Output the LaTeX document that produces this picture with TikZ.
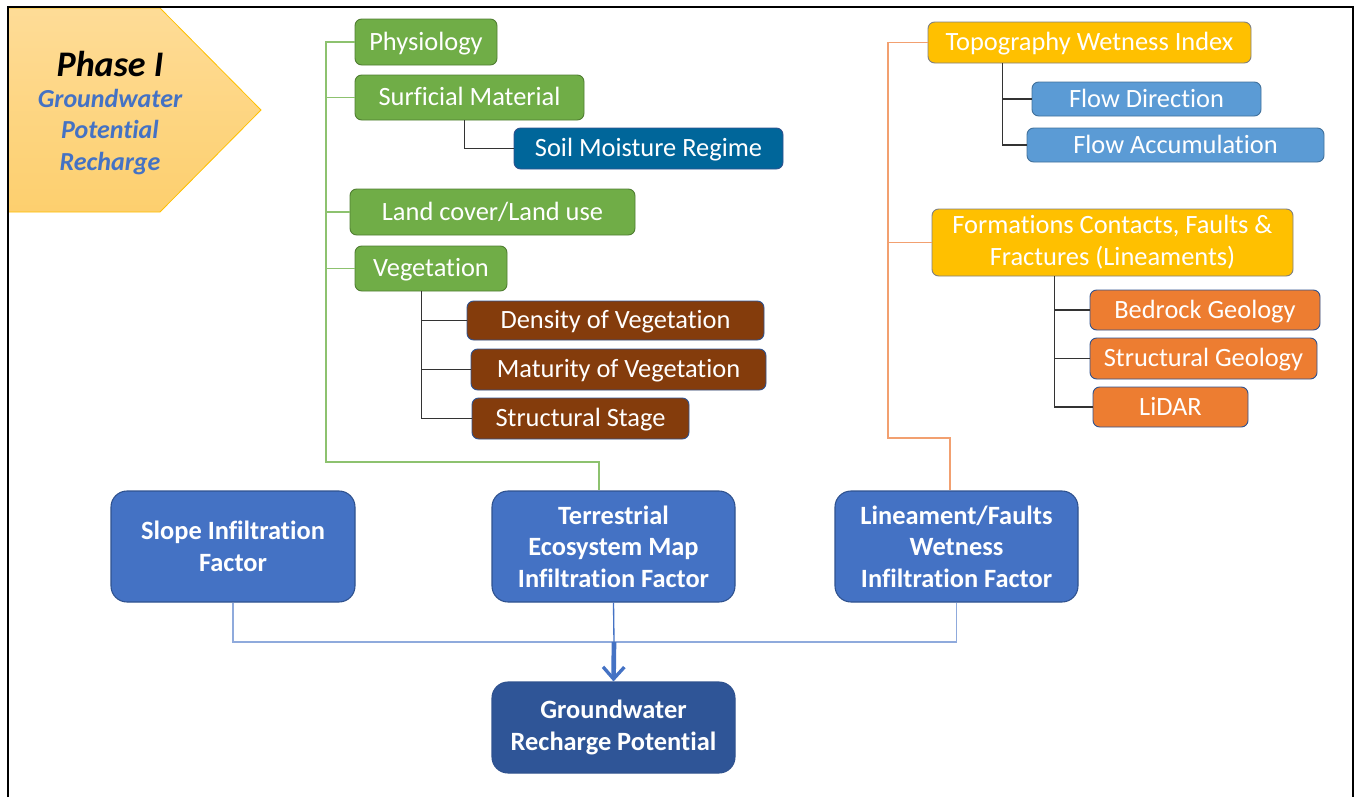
\documentclass[tikz,border=0pt]{standalone}
\usepackage{fontspec}
\setmainfont{Carlito}[RawFeature={-liga;-dlig;-clig}]
\usetikzlibrary{calc,arrows.meta}
\definecolor{grn}{HTML}{70AD47}
\definecolor{grnd}{HTML}{507E32}
\definecolor{grnl}{HTML}{8DC26F}
\definecolor{soil}{HTML}{00669A}
\definecolor{brn}{HTML}{843C0C}
\definecolor{yel}{HTML}{FFC000}
\definecolor{lblue}{HTML}{5B9BD5}
\definecolor{lblued}{HTML}{41719C}
\definecolor{org}{HTML}{ED7D31}
\definecolor{orgl}{HTML}{F2A070}
\definecolor{acc}{HTML}{4472C4}
\definecolor{accd}{HTML}{2F528F}
\definecolor{navy}{HTML}{2F5597}
\definecolor{lnblue}{HTML}{8FAADC}
\definecolor{banA}{HTML}{FEDC97}
\definecolor{banB}{HTML}{FDCF6E}
\tikzset{
  bx/.style 2 args={minimum width=#1*0.75pt, minimum height=#2*0.75pt, inner sep=0pt},
  smallbase/.style={rounded corners=5pt, line width=0.7pt, text=white, font=\fontsize{19.8}{24}\selectfont, align=center},
  small/.style={smallbase, text height=14.6pt, text depth=2.6pt},
  greenbox/.style={small, fill=grn, draw=grnd},
  soilbox/.style={small, fill=soil, draw=accd},
  brownbox/.style={small, fill=brn, draw=accd},
  yellowbox/.style={small, fill=yel, draw=gray},
  yellowtwo/.style={smallbase, fill=yel, draw=gray},
  lbluebox/.style={small, fill=lblue, draw=lblued},
  orangebox/.style={small, fill=org, draw=accd},
  bigbox/.style={rounded corners=12pt, line width=0.8pt, text=white, font=\fontsize{19.8}{23.6}\selectfont\bfseries, align=center, fill=acc, draw=accd},
  gline/.style={draw=grnl, line width=0.9pt},
  oline/.style={draw=orgl, line width=0.9pt},
  kline/.style={draw=black!80, line width=0.9pt},
  bline/.style={draw=lnblue, line width=1pt},
}
\begin{document}
\begin{tikzpicture}[x=0.75pt,y=-0.75pt]
\useasboundingbox (0,0) rectangle (1354,797);
% banner
\path[shade, top color=banA, bottom color=banB, draw=yel, line width=0.6pt]
  (8,8) -- (160,8) -- (261,110) -- (160,212) -- (8,212) -- cycle;
\node[font=\fontsize{27}{30}\selectfont\bfseries\itshape] (ph) at (110,64) {Phase I};
\node[font=\fontsize{19.5}{23.6}\selectfont\bfseries\itshape, text=acc, align=center] (gw) at (110,132)
  {Groundwater\\Potential\\Recharge};
% frame
\draw[line width=2.2pt] (8,797) -- (8,7) -- (1353,7) -- (1353,797);

% green tree
\node[greenbox, bx={142}{46}] (phys) at (426,42) {Physiology};
\node[greenbox, bx={229}{45}] (surf) at (469.5,97.5) {Surficial Material};
\node[soilbox, bx={269}{41}] (soil) at (648.5,148.5) {Soil Moisture Regime};
\node[greenbox, bx={285}{46}] (land) at (492.5,212) {Land cover/Land use};
\node[greenbox, bx={152}{45}] (veg) at (431,268.5) {Vegetation};
\node[brownbox, bx={297}{39}] (dens) at (615.5,320.5) {Density of Vegetation};
\node[brownbox, bx={295}{41}] (mat) at (618.5,369.5) {Maturity of Vegetation};
\node[brownbox, bx={217}{41}] (stage) at (580.5,418.5) {Structural Stage};

% orange tree
\node[yellowbox, bx={323}{41}] (twi) at (1089.5,42.5) {Topography Wetness Index};
\node[lbluebox, bx={229}{34}] (fdir) at (1146.5,99) {Flow Direction};
\node[lbluebox, bx={297}{34}] (facc) at (1175.5,145) {Flow Accumulation};
\node[yellowtwo, bx={361}{67}] (form) at (1112.5,242.5) {Formations Contacts, Faults \&\\Fractures (Lineaments)};
\node[orangebox, bx={230}{40}] (bed) at (1205,310) {Bedrock Geology};
\node[orangebox, bx={227}{41}] (sgeo) at (1203.5,358.5) {Structural Geology};
\node[orangebox, bx={155}{40}] (lidar) at (1170.5,407) {LiDAR};

% bottom boxes
\node[bigbox, bx={244}{111}] (slope) at (233,546.5) {Slope Infiltration\\Factor};
\node[bigbox, bx={243}{111}] (terr) at (613.5,546.5) {Terrestrial\\Ecosystem Map\\Infiltration Factor};
\node[bigbox, bx={243}{111}] (lin) at (956.5,546.5) {Lineament/Faults\\Wetness\\Infiltration Factor};
\node[bigbox, bx={243}{91}, fill=navy] (grp) at (613.5,727.5) {Groundwater\\Recharge Potential};

% green connectors
\coordinate (gb) at (326,462);
\draw[gline] (phys.west) -| (gb) -| ($(terr.north)+(-14.5,0)$);
\draw[gline] (surf.west) -- (surf.west -| gb);
\draw[gline] (land.west) -- (land.west -| gb);
\draw[gline] (veg.west) -- (veg.west -| gb);
\draw[kline] ($(surf.south west)+(110,0)$) |- (soil.west);
\coordinate (vt) at ($(veg.south west)+(67,0)$);
\draw[kline] (vt) |- (stage.west);
\draw[kline] (dens.west) -- (dens.west -| vt);
\draw[kline] (mat.west) -- (mat.west -| vt);

% orange connectors
\coordinate (ob) at (888,438);
\draw[oline] (twi.west) -| (ob) -| ($(lin.north)+(-6.5,0)$);
\draw[oline] (form.west) -- (form.west -| ob);
\coordinate (tt) at ($(twi.south west)+(75,0)$);
\draw[kline] (tt) |- (facc.west);
\draw[kline] (fdir.west) -- (fdir.west -| tt);
\coordinate (ft) at ($(form.south west)+(123,0)$);
\draw[kline] (ft) |- (lidar.west);
\draw[kline] (bed.west) -- (bed.west -| ft);
\draw[kline] (sgeo.west) -- (sgeo.west -| ft);

% bottom connectors
\coordinate (j) at (614,642);
\draw[bline] (slope.south) |- (j) -| (lin.south);
\draw[draw=acc, line width=1pt] (terr.south) -- (j);
\draw[draw=acc, line width=3.5pt, -{Straight Barb[length=9pt, width=16pt, line width=2.5pt]}] (j) -- (grp.north);
\end{tikzpicture}
\end{document}
